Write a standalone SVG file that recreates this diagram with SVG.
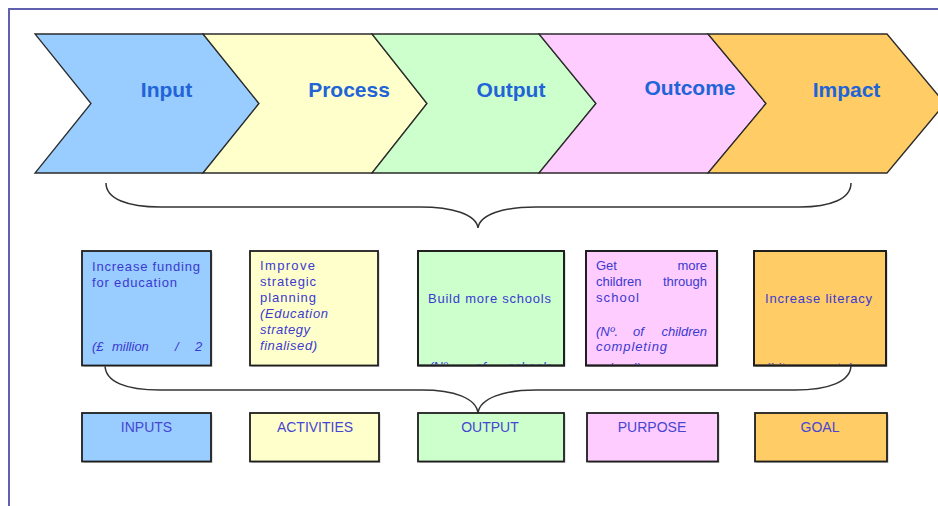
<svg xmlns="http://www.w3.org/2000/svg" width="938" height="506" viewBox="0 0 938 506">
<style>
.chev{stroke:#2b2b2b;stroke-width:1.3;stroke-linejoin:miter}
.clab{font-family:"Liberation Sans",Arial,sans-serif;font-size:21px;font-weight:bold;fill:#2064d8;text-anchor:middle}
.box{stroke:#1e1e1e;stroke-width:1.8}
.shadow{fill:#9a9a9a;opacity:0.55}
.t{font-family:"Liberation Sans",Arial,sans-serif;font-size:13px;fill:#3a3ad0}
.i{font-style:italic}
.lab{font-family:"Liberation Sans",Arial,sans-serif;font-size:14px;fill:#4646d2;text-anchor:middle}
.brace{fill:none;stroke:#333;stroke-width:1.5}
.frame{fill:none;stroke:#6060b0;stroke-width:2}
</style>
<defs>
<clipPath id="cpGreen"><rect x="419" y="252" width="144" height="112.5"/></clipPath>
<clipPath id="cpPink"><rect x="587" y="252" width="129" height="112.5"/></clipPath>
<clipPath id="cpOrange"><rect x="755" y="252" width="130" height="112.5"/></clipPath>
</defs>
<rect width="938" height="506" fill="#ffffff"/>
<path class="frame" d="M9,506 L9,9 L938,9"/>

<g id="chevron-input">
<polygon class="chev" fill="#99ccff" points="35,34 203,34 259,103.5 203,173 35,173 91,103.5"/>
<text class="clab" x="166.5" y="97">Input</text>
</g>
<g id="chevron-process">
<polygon class="chev" fill="#ffffcc" points="203,34 372,34 427,103.5 372,173 203,173 259,103.5"/>
<text class="clab" x="349" y="97">Process</text>
</g>
<g id="chevron-output">
<polygon class="chev" fill="#ccffcc" points="372,34 539,34 596,103.5 539,173 372,173 427,103.5"/>
<text class="clab" x="511" y="97">Output</text>
</g>
<g id="chevron-outcome">
<polygon class="chev" fill="#ffccff" points="539,34 708,34 766,103.5 708,173 539,173 596,103.5"/>
<text class="clab" x="690" y="95">Outcome</text>
</g>
<g id="chevron-impact">
<polygon class="chev" fill="#ffcc66" points="708,34 887,34 945,103.5 887,173 708,173 766,103.5"/>
<text class="clab" x="846.5" y="97">Impact</text>
</g>

<g id="connectors">
<path class="brace" d="M106,183 C106,199 128,207 160,207 L420,207 C452,207 476,214 478,228 C480,214 504,207 536,207 L800,207 C830,207 851,199 851,183"/>
<path class="brace" d="M105,365 C105,382 126,390 160,390 L422,390 C454,390 476,398 478,413 C480,398 504,390 536,390 L795,390 C828,390 851,382 851,365"/>
</g>

<g id="box-inputs-detail">
<rect class="shadow" x="83.5" y="252.5" width="129" height="114.5"/>
<rect class="box" x="82" y="251" width="129" height="114.5" fill="#99ccff"/>
<text class="t" x="92" y="271" textLength="108" lengthAdjust="spacing">Increase funding</text>
<text class="t" x="92" y="286.5" textLength="85" lengthAdjust="spacing">for education</text>
<text class="t i" y="351"><tspan x="92">(£</tspan><tspan x="112">million</tspan><tspan x="175">/</tspan><tspan x="195">2</tspan></text>
</g>
<g id="box-activities-detail">
<rect class="shadow" x="251.5" y="252.5" width="128" height="114.5"/>
<rect class="box" x="250" y="251" width="128" height="114.5" fill="#ffffcc"/>
<text class="t" x="260" y="270" textLength="55" lengthAdjust="spacing">Improve</text>
<text class="t" x="260" y="286" textLength="56" lengthAdjust="spacing">strategic</text>
<text class="t" x="260" y="302" textLength="56" lengthAdjust="spacing">planning</text>
<text class="t i" x="260" y="318" textLength="68" lengthAdjust="spacing">(Education</text>
<text class="t i" x="260" y="334" textLength="50" lengthAdjust="spacing">strategy</text>
<text class="t i" x="260" y="350" textLength="57" lengthAdjust="spacing">finalised)</text>
</g>
<g id="box-output-detail">
<rect class="shadow" x="419.5" y="252.5" width="146" height="114.5"/>
<rect class="box" x="418" y="251" width="146" height="114.5" fill="#ccffcc"/>
<text class="t" x="428" y="302.5" textLength="123" lengthAdjust="spacing">Build more schools</text>
<g clip-path="url(#cpGreen)">
<text class="t i" y="371"><tspan x="429">(Nº</tspan><tspan x="475">of</tspan><tspan x="508">schools</tspan></text>
</g>
<rect x="418" y="251" width="146" height="114.5" fill="none" class="box"/>
</g>
<g id="box-purpose-detail">
<rect class="shadow" x="587.5" y="252.5" width="131" height="114.5"/>
<rect class="box" x="586" y="251" width="131" height="114.5" fill="#ffccff"/>
<text class="t" y="270"><tspan x="596">Get</tspan><tspan x="707" text-anchor="end">more</tspan></text>
<text class="t" y="286"><tspan x="596">children</tspan><tspan x="707" text-anchor="end">through</tspan></text>
<text class="t" x="596" y="302" textLength="43" lengthAdjust="spacing">school</text>
<text class="t i" y="336"><tspan x="596">(Nº.</tspan><tspan x="633">of</tspan><tspan x="707" text-anchor="end">children</tspan></text>
<text class="t i" x="596" y="351" textLength="71" lengthAdjust="spacing">completing</text>
<g clip-path="url(#cpPink)">
<text class="t i" x="596" y="372" textLength="45" lengthAdjust="spacing">school)</text>
</g>
<rect x="586" y="251" width="131" height="114.5" fill="none" class="box"/>
</g>
<g id="box-goal-detail">
<rect class="shadow" x="755.5" y="252.5" width="132" height="114.5"/>
<rect class="box" x="754" y="251" width="132" height="114.5" fill="#ffcc66"/>
<text class="t" x="765" y="302.5" textLength="107" lengthAdjust="spacing">Increase literacy</text>
<g clip-path="url(#cpOrange)">
<text class="t i" x="765" y="372" textLength="88" lengthAdjust="spacing">(Literacy rate)</text>
</g>
<rect x="754" y="251" width="132" height="114.5" fill="none" class="box"/>
</g>

<g id="box-inputs">
<rect class="shadow" x="83.5" y="414.5" width="129" height="48.5"/>
<rect class="box" x="82" y="413" width="129" height="48.5" fill="#99ccff"/>
<text class="lab" x="146.5" y="432">INPUTS</text>
</g>
<g id="box-activities">
<rect class="shadow" x="251.5" y="414.5" width="129" height="48.5"/>
<rect class="box" x="250" y="413" width="129" height="48.5" fill="#ffffcc"/>
<text class="lab" x="315" y="432">ACTIVITIES</text>
</g>
<g id="box-output">
<rect class="shadow" x="419.5" y="414.5" width="146" height="48.5"/>
<rect class="box" x="418" y="413" width="146" height="48.5" fill="#ccffcc"/>
<text class="lab" x="490" y="432">OUTPUT</text>
</g>
<g id="box-purpose">
<rect class="shadow" x="588.5" y="414.5" width="131" height="48.5"/>
<rect class="box" x="587" y="413" width="131" height="48.5" fill="#ffccff"/>
<text class="lab" x="652" y="432">PURPOSE</text>
</g>
<g id="box-goal">
<rect class="shadow" x="756.5" y="414.5" width="132" height="48.5"/>
<rect class="box" x="755" y="413" width="132" height="48.5" fill="#ffcc66"/>
<text class="lab" x="820" y="432">GOAL</text>
</g>
</svg>
